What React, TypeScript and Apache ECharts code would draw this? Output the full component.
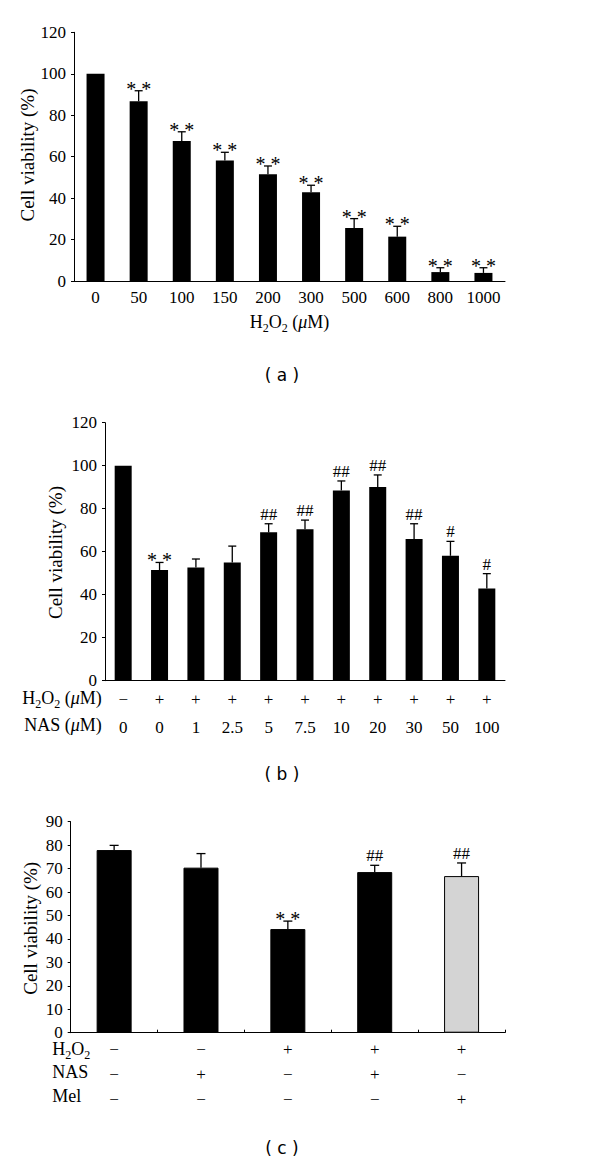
import React, { useEffect, useRef } from 'react';
import * as echarts from 'echarts';

const SERIF = '"Liberation Serif", "Times New Roman", serif';
const SANS = '"DejaVu Sans", sans-serif';

// Panel (a)
const aCats = ['0', '50', '100', '150', '200', '300', '500', '600', '800', '1000'];
const aMeans = [100, 86.7, 67.5, 58.2, 51.5, 42.8, 25.6, 21.4, 4.3, 3.9];
const aSD = [0, 5.1, 4.5, 3.9, 4.0, 3.4, 4.5, 5.0, 2.1, 2.5];
const aSig = ['', '**', '**', '**', '**', '**', '**', '**', '**', '**'];

// Panel (b)
const bH2O2 = ['−', '+', '+', '+', '+', '+', '+', '+', '+', '+', '+'];
const bNAS = ['0', '0', '1', '2.5', '5', '7.5', '10', '20', '30', '50', '100'];
const bMeans = [100, 51.5, 52.6, 55.0, 69.0, 70.5, 88.5, 90.1, 65.9, 58.1, 42.9];
const bSD = [0, 3.5, 4.0, 7.6, 4.0, 4.2, 4.4, 5.6, 7.1, 6.7, 6.9];
const bSig = ['', '**', '', '', '##', '##', '##', '##', '##', '#', '#'];

// Panel (c)
const cH2O2 = ['−', '−', '+', '+', '+'];
const cNAS = ['−', '+', '−', '+', '−'];
const cMel = ['−', '−', '−', '−', '+'];
const cMeans = [77.9, 70.4, 44.2, 68.5, 66.8];
const cSD = [2.0, 6.0, 3.4, 2.9, 5.6];
const cSig = ['', '', '**', '##', '##'];
const cColors = ['#000000', '#000000', '#000000', '#000000', '#d4d4d4'];

const TXT = { color: '#000', fontFamily: SERIF };

function yAxis(idx: number, max: number, interval: number) {
  return {
    gridIndex: idx,
    type: 'value',
    min: 0,
    max,
    interval,
    axisLine: { show: true, lineStyle: { color: '#000', width: 1 } },
    axisTick: { show: true, inside: false, length: 3, lineStyle: { color: '#000' } },
    splitLine: { show: false },
    axisLabel: { ...TXT, fontSize: 17, lineHeight: 15, margin: 8 },
  };
}

function errSeries(idx: number, means: number[], sds: number[], sigs: string[], capHalf: number) {
  return {
    type: 'custom',
    xAxisIndex: idx,
    yAxisIndex: idx,
    z: 10,
    clip: false,
    silent: true,
    data: means.map((m, i) => [i, m, m + sds[i]]),
    renderItem: (params: any, api: any) => {
      const i = params.dataIndex;
      const base = api.coord([api.value(0), api.value(1)]);
      const top = api.coord([api.value(0), api.value(2)]);
      const children: any[] = [];
      if (sds[i] > 0) {
        children.push({
          type: 'line',
          shape: { x1: base[0], y1: base[1], x2: top[0], y2: top[1] },
          style: { stroke: '#000', lineWidth: 1.3 },
        });
        children.push({
          type: 'line',
          shape: { x1: top[0] - capHalf, y1: top[1], x2: top[0] + capHalf, y2: top[1] },
          style: { stroke: '#000', lineWidth: 1.3 },
        });
      }
      const s = sigs[i];
      if (s) {
        const star = s.indexOf('*') >= 0;
        children.push({
          type: 'text',
          x: top[0],
          y: top[1] + (star ? 8 : -1),
          style: {
            text: star ? '* *' : s,
            fontFamily: SERIF,
            fontSize: star ? 20 : 17,
            align: 'center',
            verticalAlign: 'bottom',
            fill: '#000',
          },
        });
      }
      return { type: 'group', children };
    },
  };
}

const rich = {
  t: { fontFamily: SERIF, fontSize: 18, lineHeight: 16, color: '#000', verticalAlign: 'bottom', padding: [0, 0, 3, 0] },
  s: { fontFamily: SERIF, fontSize: 12, lineHeight: 12, color: '#000', verticalAlign: 'bottom' },
  i: { fontFamily: SERIF, fontSize: 18, lineHeight: 16, fontStyle: 'italic', color: '#000', verticalAlign: 'bottom', padding: [0, 0, 3, 0] },
};

function richText(x: number, y: number, text: string, align: string) {
  return {
    type: 'text',
    x,
    y,
    style: { text, rich, align, verticalAlign: 'middle', fill: '#000' },
  };
}

function plainText(x: number, y: number, text: string, align: string, font = SERIF, size = 18, rotation = 0) {
  return {
    type: 'text',
    x,
    y,
    rotation,
    style: { text, fontFamily: font, fontSize: size, align, verticalAlign: 'middle', fill: '#000' },
  };
}

const H2O2_UM = '{t|H}{s|2}{t|O}{s|2}{t| (}{i|μ}{t|M)}';
const NAS_UM = '{t|NAS (}{i|μ}{t|M)}';
const H2O2 = '{t|H}{s|2}{t|O}{s|2}';

export default function App() {
  const ref = useRef<HTMLDivElement>(null);
  useEffect(() => {
    document.body.style.margin = '0';
    const chart = echarts.init(ref.current!, null, { renderer: 'svg' });
    const option: any = {
      animation: false,
      backgroundColor: '#fff',
      grid: [
        { left: 74, top: 32.3, width: 431, height: 248.7 },
        { left: 105, top: 422.7, width: 400, height: 258 },
        { left: 70.7, top: 821.7, width: 434.3, height: 211 },
      ],
      xAxis: [
        {
          gridIndex: 0,
          type: 'category',
          data: aCats,
          axisLine: { lineStyle: { color: '#000', width: 1 } },
          axisTick: { show: false },
          axisLabel: { ...TXT, fontSize: 17, margin: 8, interval: 0 },
        },
        {
          gridIndex: 1,
          type: 'category',
          data: bNAS.map((n, i) => bH2O2[i] + '\n' + n),
          axisLine: { lineStyle: { color: '#000', width: 1 } },
          axisTick: { show: false },
          axisLabel: { ...TXT, fontSize: 17, lineHeight: 28, margin: 5, interval: 0 },
        },
        {
          gridIndex: 2,
          type: 'category',
          data: cH2O2.map((h, i) => h + '\n' + cNAS[i] + '\n' + cMel[i]),
          axisLine: { lineStyle: { color: '#000', width: 1 } },
          axisTick: { show: true, inside: true, length: 3, lineStyle: { color: '#000' } },
          axisLabel: { ...TXT, fontSize: 17, lineHeight: 25, margin: 4, interval: 0 },
        },
      ],
      yAxis: [yAxis(0, 120, 20), yAxis(1, 120, 20), yAxis(2, 90, 10)],
      series: [
        {
          type: 'bar',
          xAxisIndex: 0,
          yAxisIndex: 0,
          data: aMeans,
          barWidth: 18,
          itemStyle: { color: '#000' },
          silent: true,
        },
        errSeries(0, aMeans, aSD, aSig, 4),
        {
          type: 'bar',
          xAxisIndex: 1,
          yAxisIndex: 1,
          data: bMeans,
          barWidth: 17,
          itemStyle: { color: '#000' },
          silent: true,
        },
        errSeries(1, bMeans, bSD, bSig, 4),
        {
          type: 'bar',
          xAxisIndex: 2,
          yAxisIndex: 2,
          data: cMeans.map((v, i) => ({
            value: v,
            itemStyle: { color: cColors[i], borderColor: '#000', borderWidth: 1 },
          })),
          barWidth: 35,
          silent: true,
        },
        errSeries(2, cMeans, cSD, cSig, 4.5),
      ],
      graphic: [
        plainText(27, 155, 'Cell viability (%)', 'center', SERIF, 19, Math.PI / 2),
        richText(289.5, 326, H2O2_UM, 'center'),
        plainText(282, 375, '( a )', 'center', SANS, 17),
        plainText(55, 552.5, 'Cell viability (%)', 'center', SERIF, 19, Math.PI / 2),
        richText(101.7, 701.5, H2O2_UM, 'right'),
        richText(101.7, 728.5, NAS_UM, 'right'),
        plainText(282, 774, '( b )', 'center', SANS, 17),
        plainText(30, 928.3, 'Cell viability (%)', 'center', SERIF, 19, Math.PI / 2),
        richText(52.3, 1053, H2O2, 'left'),
        richText(52.3, 1076, '{t|NAS}', 'left'),
        richText(52.3, 1100, '{t|Mel}', 'left'),
        plainText(282, 1148, '( c )', 'center', SANS, 17),
      ],
    };
    chart.setOption(option);
    return () => chart.dispose();
  }, []);
  return <div ref={ref} style={{ width: 600, height: 1161, background: '#fff' }} />;
}
